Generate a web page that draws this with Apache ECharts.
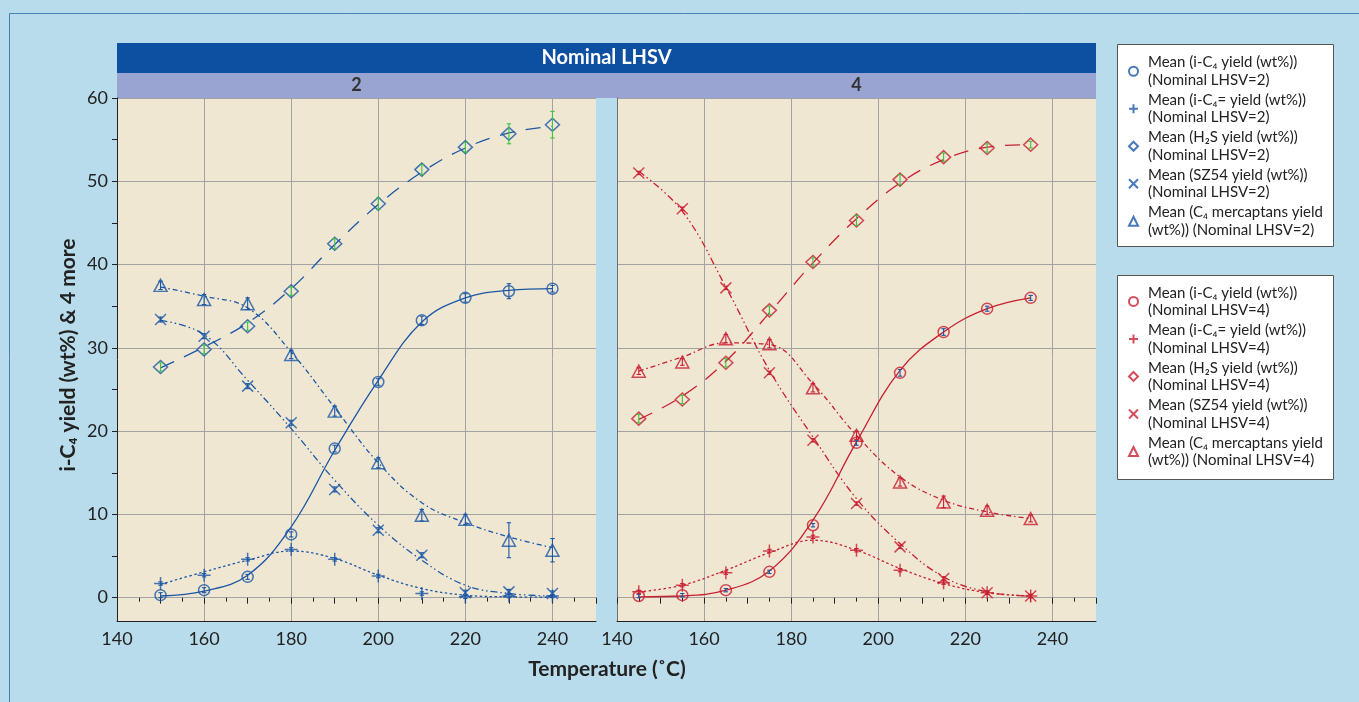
<!DOCTYPE html>
<html>
<head>
<meta charset="utf-8">
<script src="https://cdn.jsdelivr.net/npm/echarts@6/dist/echarts.min.js"></script>
<style>
html,body{margin:0;padding:0;background:#b9dcec;}
#c{width:1359px;height:702px;}
</style>
</head>
<body>
<div id="c"></div>
<script>
// ---------- data ----------
const temp2 = [150, 160, 170, 180, 190, 200, 210, 220, 230, 240];
const temp4 = [145, 155, 165, 175, 185, 195, 205, 215, 225, 235];

// Nominal LHSV = 2  (means, fitted curve values, error half-widths)
const iC4_2      = [0.3, 0.9, 2.5, 7.6, 17.9, 25.9, 33.3, 36.0, 36.8, 37.1];
const iC4_2_fit  = [0.2, 0.8, 2.7, 8.5, 17.7, 26.1, 33.1, 36.0, 36.9, 37.1];
const iC4_2_err  = [0.3, 0.3, 0.3, 0.3, 0.4, 0.4, 0.5, 0.5, 0.9, 0.4];

const iC4e_2     = [1.7, 2.7, 4.6, 5.8, 4.6, 2.6, 0.5, 0.1, 0.2, 0.2];
const iC4e_2_fit = [1.6, 3.1, 4.5, 5.6, 4.7, 2.7, 1.1, 0.3, 0.1, 0.05];
const iC4e_2_err = [0.2, 0.2, 0.2, 0.2, 0.2, 0.2, 0.2, 0.2, 0.2, 0.2];

const h2s_2      = [27.7, 29.8, 32.6, 36.8, 42.5, 47.3, 51.4, 54.1, 55.7, 56.8];
const h2s_2_fit  = [27.6, 30.1, 33.0, 37.1, 42.4, 47.2, 51.1, 54.0, 55.8, 56.6];
const h2s_2_err  = [0.5, 0.5, 0.5, 0.5, 0.6, 0.7, 0.6, 0.6, 1.2, 1.6];

const sz54_2     = [33.4, 31.4, 25.4, 21.0, 13.0, 8.1, 5.1, 0.6, 0.7, 0.5];
const sz54_2_fit = [33.3, 31.6, 26.1, 20.3, 14.1, 8.7, 4.5, 1.5, 0.5, 0.2];
const sz54_2_err = [0.3, 0.3, 0.3, 0.3, 0.3, 0.3, 0.3, 0.3, 0.3, 0.3];

const merc_2     = [37.5, 35.8, 35.3, 29.2, 22.4, 16.2, 9.9, 9.4, 6.9, 5.7];
const merc_2_fit = [37.3, 36.2, 34.8, 29.5, 22.8, 16.2, 11.4, 9.0, 7.3, 6.0];
const merc_2_err = [0.5, 0.6, 0.7, 0.5, 0.6, 0.6, 0.7, 0.6, 2.1, 1.4];

// Nominal LHSV = 4
const iC4_4      = [0.2, 0.3, 0.9, 3.1, 8.7, 18.6, 27.0, 31.9, 34.7, 36.0];
const iC4_4_fit  = [0.1, 0.2, 0.9, 3.2, 9.3, 18.7, 27.3, 31.9, 34.7, 36.0];
const iC4_4_err  = [0.2, 0.2, 0.2, 0.2, 0.2, 0.3, 0.4, 0.4, 0.3, 0.3];

const iC4e_4     = [0.7, 1.5, 3.0, 5.6, 7.3, 5.7, 3.3, 1.8, 0.6, 0.2];
const iC4e_4_fit = [0.7, 1.5, 3.3, 5.4, 6.9, 5.7, 3.5, 1.7, 0.6, 0.2];
const iC4e_4_err = [0.2, 0.2, 0.2, 0.2, 0.2, 0.2, 0.2, 0.2, 0.2, 0.2];

const h2s_4      = [21.5, 23.8, 28.2, 34.5, 40.3, 45.3, 50.2, 52.9, 54.0, 54.4];
const h2s_4_fit  = [21.4, 24.2, 28.4, 34.2, 40.2, 45.5, 49.8, 52.6, 54.1, 54.4];
const h2s_4_err  = [0.5, 0.5, 0.5, 0.5, 0.5, 0.6, 0.6, 0.5, 0.5, 0.4];

const sz54_4     = [51.0, 46.7, 37.2, 27.0, 18.9, 11.3, 6.1, 2.3, 0.6, 0.2];
const sz54_4_fit = [51.2, 46.4, 37.3, 27.3, 19.3, 11.9, 6.5, 2.5, 0.7, 0.2];
const sz54_4_err = [0.2, 0.2, 0.2, 0.2, 0.2, 0.2, 0.2, 0.2, 0.2, 0.2];

const merc_4     = [27.2, 28.3, 31.1, 30.5, 25.2, 19.5, 13.9, 11.5, 10.5, 9.5];
const merc_4_fit = [27.2, 28.9, 30.6, 30.4, 25.7, 19.5, 14.5, 11.7, 10.3, 9.5];
const merc_4_err = [0.4, 0.4, 0.5, 0.5, 0.5, 0.5, 0.5, 0.7, 0.5, 0.4];

// tick labels
const yTickValues  = [0, 10, 20, 30, 40, 50, 60];
const yMinorValues = [5, 15, 25, 35, 45, 55];
const xTickLabels  = [140, 160, 180, 200, 220, 240];

// texts
const headerTitle = 'Nominal LHSV';
const panelLabels = ['2', '4'];
const xTitle = 'Temperature (˚C)';
const yTitle = 'i-C₄ yield (wt%) & 4 more';
const legendNames2 = [
  'Mean (i-C₄ yield (wt%))\n(Nominal LHSV=2)',
  'Mean (i-C₄= yield (wt%))\n(Nominal LHSV=2)',
  'Mean (H₂S yield (wt%))\n(Nominal LHSV=2)',
  'Mean (SZ54 yield (wt%))\n(Nominal LHSV=2)',
  'Mean (C₄ mercaptans yield\n(wt%)) (Nominal LHSV=2)'
];
const legendNames4 = [
  'Mean (i-C₄ yield (wt%))\n(Nominal LHSV=4)',
  'Mean (i-C₄= yield (wt%))\n(Nominal LHSV=4)',
  'Mean (H₂S yield (wt%))\n(Nominal LHSV=4)',
  'Mean (SZ54 yield (wt%))\n(Nominal LHSV=4)',
  'Mean (C₄ mercaptans yield\n(wt%)) (Nominal LHSV=4)'
];

// ---------- styles ----------
const FONT = 'Lato, "Noto Sans", sans-serif';
const BLUE = '#1b57a5', RED = '#c81f32', GREEN = '#3cc23c';
const GRIDC = '#a3a3a3', AXC = '#222';
const PLUS = 'path://M0,5L10,5M5,0L5,10';
const CROSS = 'path://M0,0L10,10M10,0L0,10';

const markerDefs = [
  {symbol: 'circle',   size: 11,  dash: 'solid'},
  {symbol: PLUS,       size: 13,  dash: [2.5, 2.5]},
  {symbol: 'diamond',  size: [14, 13], dash: [15, 11]},
  {symbol: CROSS,      size: 11,  dash: [7, 3, 1.5, 3, 1.5, 3]},
  {symbol: 'triangle', size: [13, 12], dash: [5, 3, 1.5, 3]}
];

const panels = [
  {temp: temp2, names: legendNames2, color: BLUE,
   means: [iC4_2, iC4e_2, h2s_2, sz54_2, merc_2],
   fits:  [iC4_2_fit, iC4e_2_fit, h2s_2_fit, sz54_2_fit, merc_2_fit],
   errs:  [iC4_2_err, iC4e_2_err, h2s_2_err, sz54_2_err, merc_2_err],
   errColors: [BLUE, BLUE, GREEN, BLUE, BLUE]},
  {temp: temp4, names: legendNames4, color: RED,
   means: [iC4_4, iC4e_4, h2s_4, sz54_4, merc_4],
   fits:  [iC4_4_fit, iC4e_4_fit, h2s_4_fit, sz54_4_fit, merc_4_fit],
   errs:  [iC4_4_err, iC4e_4_err, h2s_4_err, sz54_4_err, merc_4_err],
   errColors: [BLUE, RED, GREEN, RED, RED]}
];

const grids = [
  {left: 117, top: 98, width: 479, height: 523, show: true, backgroundColor: '#f0e7d3', borderWidth: 0},
  {left: 617, top: 98, width: 479, height: 523, show: true, backgroundColor: '#f0e7d3', borderWidth: 0}
];

const xAxes = [], yAxes = [];
[0, 1].forEach(function (g) {
  xAxes.push({
    type: 'value', gridIndex: g, position: 'bottom', min: 140, max: 250, interval: 20,
    axisLine: {show: true, onZero: false, lineStyle: {color: AXC, width: 1}},
    axisTick: {show: false, customValues: xTickLabels},
    axisLabel: {show: true, customValues: xTickLabels, color: '#222', fontSize: 18, fontFamily: FONT, margin: 9,
                formatter: function (v) { return v > 245 ? '' : String(v); }},
    splitLine: {show: true, lineStyle: {color: GRIDC, width: 1}}
  });
  xAxes.push({
    type: 'value', gridIndex: g, position: 'bottom', min: 140, max: 250, interval: 10,
    axisLine: {show: false},
    axisTick: {show: true, length: 6, lineStyle: {color: AXC}},
    minorTick: {show: true, splitNumber: 2, length: 4, lineStyle: {color: AXC}},
    axisLabel: {show: false},
    splitLine: {show: false}
  });
  yAxes.push({
    type: 'value', gridIndex: g, position: 'left', min: -2.8, max: 60, splitNumber: 6,
    axisLine: {show: true, onZero: false, lineStyle: {color: g === 0 ? AXC : '#6f6f6f', width: 1}},
    axisTick: {show: g === 0, length: 5, customValues: yTickValues, lineStyle: {color: AXC}},
    axisLabel: {show: g === 0, customValues: yTickValues, color: '#222', fontSize: 18, fontFamily: FONT, margin: 9,
                formatter: function (v) { return v < -0.01 ? '' : String(v); }},
    splitLine: {show: true, lineStyle: {color: GRIDC, width: 1}}
  });
  yAxes.push({
    type: 'value', gridIndex: g, position: 'left', min: -2.8, max: 60, splitNumber: 12,
    axisLine: {show: false},
    axisTick: {show: g === 0, length: 5, customValues: yMinorValues, lineStyle: {color: AXC}},
    axisLabel: {show: false},
    splitLine: {show: false}
  });
});

function errorSeries(xi, yi, temps, vals, errs, color) {
  return {
    type: 'custom', xAxisIndex: xi, yAxisIndex: yi, silent: true, z: 6,
    data: temps.map(function (t, i) { return [t, vals[i] - errs[i], vals[i] + errs[i]]; }),
    renderItem: function (params, api) {
      const lo = api.coord([api.value(0), api.value(1)]);
      const hi = api.coord([api.value(0), api.value(2)]);
      const w = 2.2;
      const st = {stroke: color, lineWidth: 1.1};
      return {type: 'group', children: [
        {type: 'line', shape: {x1: lo[0], y1: lo[1], x2: hi[0], y2: hi[1]}, style: st},
        {type: 'line', shape: {x1: lo[0] - w, y1: lo[1], x2: lo[0] + w, y2: lo[1]}, style: st},
        {type: 'line', shape: {x1: hi[0] - w, y1: hi[1], x2: hi[0] + w, y2: hi[1]}, style: st}
      ]};
    }
  };
}

const series = [];
panels.forEach(function (p, g) {
  const xi = g * 2, yi = g * 2;
  p.means.forEach(function (m, k) {
    const md = markerDefs[k];
    series.push({
      type: 'line', xAxisIndex: xi, yAxisIndex: yi, smooth: 0.4, showSymbol: false, silent: true, z: 2,
      clip: false,
      data: p.temp.map(function (t, i) { return [t, p.fits[k][i]]; }),
      lineStyle: {color: p.color, width: 1.3, type: md.dash}
    });
    series.push({
      type: 'scatter', name: p.names[k], xAxisIndex: xi, yAxisIndex: yi, z: 4, clip: false,
      symbol: md.symbol, symbolSize: md.size,
      data: p.temp.map(function (t, i) { return [t, m[i]]; }),
      itemStyle: {color: 'rgba(0,0,0,0)', borderColor: p.color, borderWidth: 1.5},
      emphasis: {disabled: true}
    });
    series.push(errorSeries(xi, yi, p.temp, m, p.errs[k], p.errColors[k]));
  });
});

function legendFor(names, top) {
  return {
    data: names, orient: 'vertical', left: 1128, top: top,
    itemWidth: 9, itemHeight: 9, itemGap: -15, selectedMode: false,
    textStyle: {fontFamily: FONT, fontSize: 15, color: '#222', lineHeight: 17.5, padding: [17.5, 0, 0, 5]},
    backgroundColor: 'transparent', borderWidth: 0, padding: 0
  };
}

const graphic = [
  {type: 'rect', shape: {x: 9.5, y: 13.5, width: 1400, height: 800}, style: {fill: 'none', stroke: '#4a7fb8', lineWidth: 1}, silent: true},
  {type: 'rect', shape: {x: 117, y: 43, width: 979, height: 30}, style: {fill: '#0d4fa1'}, silent: true},
  {type: 'rect', shape: {x: 117, y: 73, width: 979, height: 25}, style: {fill: '#9aa4d2'}, silent: true},
  {type: 'text', x: 606.5, y: 58, style: {text: headerTitle, fill: '#ffffff', font: 'bold 20px ' + FONT, align: 'center', verticalAlign: 'middle'}, silent: true},
  {type: 'text', x: 356.5, y: 85.5, style: {text: panelLabels[0], fill: '#333333', font: 'bold 18px ' + FONT, align: 'center', verticalAlign: 'middle'}, silent: true},
  {type: 'text', x: 856.5, y: 85.5, style: {text: panelLabels[1], fill: '#333333', font: 'bold 18px ' + FONT, align: 'center', verticalAlign: 'middle'}, silent: true},
  {type: 'rect', shape: {x: 1117.5, y: 44.5, width: 216, height: 202}, style: {fill: '#ffffff', stroke: '#555555', lineWidth: 1}, silent: true, z: -1},
  {type: 'rect', shape: {x: 1117.5, y: 275.5, width: 216, height: 204}, style: {fill: '#ffffff', stroke: '#555555', lineWidth: 1}, silent: true, z: -1},
  {type: 'text', x: 607, y: 669, style: {text: xTitle, fill: '#222', font: 'bold 21px ' + FONT, align: 'center', verticalAlign: 'middle'}, silent: true},
  {type: 'text', x: 68, y: 355, rotation: Math.PI / 2, style: {text: yTitle, fill: '#222', font: 'bold 21px ' + FONT, align: 'center', verticalAlign: 'middle'}, silent: true}
];

const chart = echarts.init(document.getElementById('c'), null, {renderer: 'canvas'});
chart.setOption({
  backgroundColor: '#b9dcec',
  animation: false,
  grid: grids,
  xAxis: xAxes,
  yAxis: yAxes,
  legend: [legendFor(legendNames2, 45), legendFor(legendNames4, 275.2)],
  graphic: graphic,
  series: series
});
</script>
</body>
</html>
